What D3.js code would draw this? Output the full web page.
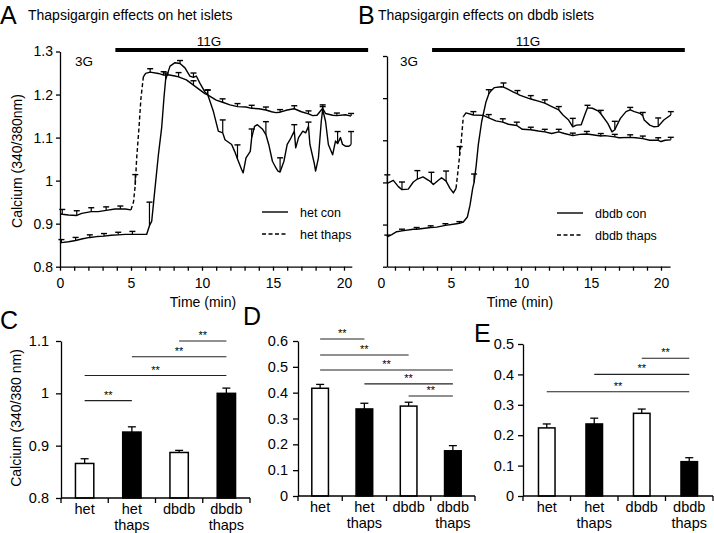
<!DOCTYPE html>
<html>
<head>
<meta charset="utf-8">
<script src="https://cdn.jsdelivr.net/npm/d3@7"></script>
<style>
  body { margin: 0; background: #fff; }
  svg { font-family: "Liberation Sans", Arial, sans-serif; }
</style>
</head>
<body>
<svg width="714" height="533"></svg>
<script>
// ---------- A: het islets, calcium traces ----------
const hetConT = [0,0.1,0.6,1.1,1.6,2.1,2.6,3.1,3.6,4.1,4.6,5.1,5.6,6.1,6.3,6.46,6.69,6.93,7.16,7.32,7.44,7.75,8.1,8.45,8.8,9.15,9.4,9.6,9.86,10.2,10.4,10.8,11.15,11.46,11.62,12.09,12.3,12.5,12.79,12.9,13.1,13.4,13.5,13.7,13.9,14.25,14.5,14.7,14.96,15.2,15.35,15.5,15.77,16.0,16.2,16.5,16.6,16.8,17.1,17.3,17.5,17.6,17.9,18.0,18.2,18.4,18.5,18.7,18.9,19.2,19.4,19.55,19.75,19.9,20.1,20.35,20.5];
const hetConV = [0.855,0.856,0.858,0.861,0.865,0.868,0.870,0.871,0.873,0.874,0.875,0.875,0.875,0.875,0.895,0.906,0.982,1.06,1.123,1.192,1.235,1.266,1.274,1.272,1.262,1.243,1.24,1.243,1.226,1.206,1.2,1.161,1.115,1.111,1.095,1.084,1.068,1.05,1.026,1.018,1.053,1.068,1.1,1.126,1.13,1.12,1.107,1.084,1.045,1.03,1.022,1.02,1.045,1.084,1.095,1.115,1.076,1.1,1.115,1.111,1.126,1.084,1.041,1.022,1.053,1.138,1.165,1.138,1.084,1.06,1.092,1.086,1.1,1.084,1.08,1.08,1.084];
const hetConErrT = [0.1,1.1,2.1,3.1,4.1,5.1,6.3,7.44,8.45,9.4,10.4,11.46,12.5,13.5,14.5,15.5,16.5,17.5,18.5,19.55,20.5];
const hetConErr = [0.007,0.007,0.006,0.006,0.006,0.007,0.055,0.015,0.007,0.01,0.01,0.03,0.033,0.02,0.03,0.033,0.015,0.01,0.007,0.028,0.03];

const hetThapsT = [0,0.16,0.59,1.18,1.53,2.2,2.7,3.25,3.87,4.25,4.6,5.0,5.18,5.3,5.4,5.56,5.7,5.87,6.03,6.35,6.93,7.3,7.6,8.1,8.35,8.9,9.4,9.8,10.2,10.4,11.0,11.45,11.97,12.5,13.1,13.5,14.0,14.5,14.9,15.2,15.5,16.0,16.5,17.0,17.5,17.8,18.1,18.5,18.7,19.2,19.5,20.1,20.5];
const hetThapsV = [0.923,0.922,0.92,0.919,0.924,0.928,0.928,0.931,0.934,0.934,0.934,0.932,0.951,0.99,1.052,1.122,1.191,1.241,1.249,1.252,1.249,1.245,1.246,1.243,1.241,1.234,1.222,1.212,1.202,1.199,1.187,1.182,1.176,1.172,1.171,1.168,1.167,1.164,1.16,1.158,1.159,1.164,1.167,1.16,1.155,1.151,1.152,1.168,1.156,1.152,1.151,1.153,1.15];
const hetThapsErrT = [0.16,1.18,2.2,3.25,4.25,5.3,6.35,7.3,8.35,9.4,10.4,11.45,12.5,13.5,14.5,15.5,16.5,17.5,18.5,19.5,20.5];
const hetThapsErr = [0.011,0.011,0.009,0.008,0.007,0.024,0.008,0.008,0.01,0.01,0.012,0.008,0.007,0.007,0.007,0.006,0.007,0.007,0.008,0.006,0.006];

// ---------- B: dbdb islets, calcium traces ----------
const dbConT = [0.45,0.77,1.12,1.5,2.3,2.55,3.26,3.55,3.98,4.6,5.4,5.6,5.88,6.17,6.36,6.55,6.65,6.8,6.95,7.19,7.5,7.7,7.8,8.1,8.6,8.75,8.95,9.43,9.75,9.9,10.5,10.7,11.24,11.7,12.2,12.7,13.0,13.4,13.7,13.95,14.3,14.55,14.75,15.1,15.5,15.7,16.2,16.5,16.7,16.8,17.1,17.5,17.8,18.1,18.5,18.7,18.8,19.2,19.5,19.8,20.2,20.7];
const dbConV = [0.871,0.876,0.883,0.885,0.889,0.889,0.892,0.893,0.894,0.898,0.902,0.903,0.906,0.918,0.946,0.986,1.0,1.04,1.089,1.144,1.191,1.21,1.215,1.225,1.227,1.226,1.223,1.215,1.21,1.207,1.2,1.198,1.193,1.188,1.18,1.172,1.16,1.148,1.132,1.136,1.137,1.16,1.177,1.176,1.17,1.163,1.14,1.12,1.125,1.132,1.152,1.168,1.172,1.168,1.164,1.158,1.148,1.136,1.132,1.133,1.148,1.16];
const dbConErrT = [0.45,1.5,2.55,3.55,4.6,5.6,6.65,7.7,8.75,9.75,10.7,11.7,12.7,13.7,14.75,15.7,16.7,17.8,18.7,19.8,20.7];
const dbConErr = [0.004,0.004,0.004,0.004,0.004,0.004,0.02,0.01,0.01,0.008,0.008,0.008,0.008,0.02,0.006,0.008,0.02,0.006,0.008,0.02,0.008];

const dbThapsT = [0.45,0.88,1.24,1.5,1.95,2.31,2.6,3.0,3.4,3.6,3.74,4.1,4.33,4.65,4.93,5.17,5.36,5.52,5.62,5.71,5.88,6.07,6.6,7.3,7.7,8.2,8.7,9.1,9.7,10.1,10.7,11.24,11.7,12.19,12.7,13.1,13.7,14.2,14.7,15.1,15.7,16.0,16.7,17.0,17.8,18.2,18.7,19.2,19.8,20.0,20.3,20.7];
const dbThapsV = [0.998,1.005,0.99,0.983,0.984,1.001,1.008,1.013,1.005,1.0,0.995,1.005,1.011,1.003,0.986,0.975,0.986,1.033,1.065,1.089,1.156,1.165,1.16,1.159,1.153,1.146,1.143,1.138,1.135,1.126,1.125,1.122,1.12,1.116,1.12,1.116,1.111,1.114,1.115,1.113,1.11,1.111,1.108,1.106,1.107,1.106,1.104,1.1,1.1,1.097,1.1,1.101];
const dbThapsErrT = [0.45,1.5,2.6,3.6,4.65,5.62,6.6,7.7,8.7,9.7,10.7,11.7,12.7,13.7,14.7,15.7,16.7,17.8,18.7,19.8,20.7];
const dbThapsErr = [0.02,0.018,0.02,0.024,0.024,0.02,0.008,0.008,0.008,0.008,0.006,0.006,0.006,0.006,0.006,0.006,0.006,0.006,0.006,0.006,0.006];

const timeTicks = [0,1,2,3,4,5,6,7,8,9,10,11,12,13,14,15,16,17,18,19,20];
const calTicks = [0.8,0.9,1.0,1.1,1.2,1.3];
const glucoseA = [3.9, 21.7];
const glucoseB = [3.65, 21.7];

// ---------- C, D, E: bar charts ----------
const cats = ["het", "het thaps", "dbdb", "dbdb thaps"];
const cMeans = [0.866, 0.926, 0.887, 1.0];
const cErr = [0.009, 0.01, 0.004, 0.01];
const cTicks = [0.8, 0.9, 1.0, 1.1];
const cSig = [[0, 1], [0, 3], [1, 3], [2, 3]];
const cSigY = [0.986, 1.034, 1.07, 1.1];

const dMeans = [0.417, 0.337, 0.348, 0.175];
const dErr = [0.015, 0.022, 0.015, 0.02];
const dTicks = [0, 0.1, 0.2, 0.3, 0.4, 0.5, 0.6];
const dSig = [[0, 1], [0, 2], [0, 3], [1, 3], [2, 3]];
const dSigY = [0.608, 0.546, 0.488, 0.434, 0.387];

const eMeans = [0.224, 0.237, 0.272, 0.113];
const eErr = [0.013, 0.019, 0.014, 0.013];
const eTicks = [0, 0.1, 0.2, 0.3, 0.4, 0.5];
const eSig = [[0, 3], [1, 3], [2, 3]];
const eSigY = [0.343, 0.40, 0.453];

const svg = d3.select("svg");
const FONT = '"Liberation Sans", Arial, sans-serif';
const fmt1 = (d) => +d.toFixed(1);

const styleAxis = (g, size) =>
  g.attr("font-size", size).attr("font-family", FONT).attr("color", "#000")
   .call((s) => s.selectAll("path, line").attr("stroke-width", 1.3));

const label = (txt, x, y, size, anchor) =>
  svg.append("text").text(txt).attr("x", x).attr("y", y)
    .attr("font-size", size).attr("text-anchor", anchor || "start").attr("fill", "#000");

// trace: thaps series get dashes on their steep rise only
function drawTrace(g, x, y, T, V, dashSteep) {
  const line = d3.line().x((d) => x(d[0])).y((d) => y(d[1]));
  const pts = T.map((t, i) => [t, V[i]]);
  const runs = [];
  let cur = null;
  for (let i = 0; i < pts.length - 1; i++) {
    const dx = Math.abs(x(pts[i + 1][0]) - x(pts[i][0]));
    const dy = Math.abs(y(pts[i + 1][1]) - y(pts[i][1]));
    const steep = dashSteep && dy > 8 && dy > 3 * dx;
    if (!cur || cur.steep !== steep) {
      cur = { steep, pts: [pts[i]] };
      runs.push(cur);
    }
    cur.pts.push(pts[i + 1]);
  }
  runs.forEach((r) =>
    g.append("path").datum(r.pts).attr("d", line)
      .attr("fill", "none").attr("stroke", "#000").attr("stroke-width", 1.4)
      .attr("stroke-linejoin", "round")
      .attr("stroke-dasharray", r.steep ? "4,2.5" : null));
}

function drawErr(g, x, y, T, V, ET, E) {
  ET.forEach((t, k) => {
    const i = T.indexOf(t);
    if (i < 0) return;
    const v = V[i];
    const cx = x(t), y0 = y(v), y1 = y(v + E[k]);
    g.append("line").attr("x1", cx).attr("x2", cx).attr("y1", y0).attr("y2", y1)
      .attr("stroke", "#000").attr("stroke-width", 1.2);
    g.append("line").attr("x1", cx - 3).attr("x2", cx + 3).attr("y1", y1).attr("y2", y1)
      .attr("stroke", "#000").attr("stroke-width", 1.4);
  });
}

function timePanel(cfg) {
  const g = svg.append("g");
  const { x, y } = cfg;
  // glucose bar
  g.append("rect").attr("x", x(cfg.glucose[0])).attr("y", 48)
    .attr("width", x(cfg.glucose[1]) - x(cfg.glucose[0])).attr("height", 4).attr("fill", "#000");
  label("11G", x(10.5), 46, 13.5, "middle");
  label("3G", cfg.g3x, 66, 13.5);

  const xAxis = g.append("g").attr("transform", `translate(0,${y(0.8)})`)
    .call(d3.axisBottom(x).tickValues(timeTicks).tickSize(4).tickPadding(7).tickSizeOuter(0)
      .tickFormat((d) => (d % 5 === 0 ? d : "")));
  styleAxis(xAxis, 14);
  xAxis.selectAll(".tick line").filter((d) => x(d) < x.range()[0] - 1).remove();

  const yAxis = g.append("g").attr("transform", `translate(${x.range()[0]},0)`)
    .call(d3.axisLeft(y).tickValues(calTicks).tickSize(4).tickPadding(3).tickSizeOuter(0)
      .tickFormat(cfg.yLabels ? fmt1 : ""));
  styleAxis(yAxis, 14);

  cfg.series.forEach((s) => {
    drawTrace(g, x, y, s.T, s.V, s.dashed);
    drawErr(g, x, y, s.T, s.V, s.ET, s.E);
  });

  // legend
  cfg.series.forEach((s, i) => {
    const ly = cfg.legend[1] + i * 22;
    g.append("line").attr("x1", cfg.legend[0]).attr("x2", cfg.legend[0] + 26)
      .attr("y1", ly).attr("y2", ly).attr("stroke", "#000").attr("stroke-width", 1.4)
      .attr("stroke-dasharray", s.dashed ? "4,2.5" : null);
    label(s.name, cfg.legend[0] + 38, ly + 4.5, 12.5);
  });

  label("Time (min)", cfg.timeX, 307, 14, "middle");
}

// ---------- A ----------
const xA = d3.scaleLinear().domain([0, 20.55]).range([60, 351.8]);
const yA = d3.scaleLinear().domain([0.8, 1.3]).range([266.7, 51.5]);
timePanel({
  x: xA, y: yA, glucose: glucoseA, g3x: 75, yLabels: true, legend: [262, 212], timeX: 203,
  series: [
    { name: "het con", T: hetConT, V: hetConV, ET: hetConErrT, E: hetConErr, dashed: false },
    { name: "het thaps", T: hetThapsT, V: hetThapsV, ET: hetThapsErrT, E: hetThapsErr, dashed: true },
  ],
});

// ---------- B ----------
const xB = d3.scaleLinear().domain([0.43, 20.65]).range([387, 670.1]);
const yB = d3.scaleLinear().domain([0.8, 1.3]).range([266.7, 56]);
timePanel({
  x: xB, y: yB, glucose: glucoseB, g3x: 400, yLabels: false, legend: [557, 213], timeX: 520,
  series: [
    { name: "dbdb con", T: dbConT, V: dbConV, ET: dbConErrT, E: dbConErr, dashed: false },
    { name: "dbdb thaps", T: dbThapsT, V: dbThapsV, ET: dbThapsErrT, E: dbThapsErr, dashed: true },
  ],
});

// ---------- bar panels ----------
function barPanel(cfg) {
  const g = svg.append("g");
  const x = d3.scaleBand().domain(cats).range(cfg.xr).paddingInner(cfg.pad).paddingOuter(cfg.pad / 2);
  const y = d3.scaleLinear().domain(cfg.yd).range(cfg.yr);
  const base = y(cfg.yd[0]);
  const cx = (i) => x(cats[i]) + x.bandwidth() / 2;

  g.selectAll("rect").data(cfg.means).join("rect")
    .attr("x", (d, i) => x(cats[i]) + 0.75).attr("width", x.bandwidth() - 1.5)
    .attr("y", (d) => y(d)).attr("height", (d) => base - y(d))
    .attr("fill", (d, i) => (i % 2 ? "#000" : "#fff"))
    .attr("stroke", "#000").attr("stroke-width", 1.5);

  cfg.means.forEach((m, i) => {
    const y1 = y(m + cfg.err[i]);
    g.append("line").attr("x1", cx(i)).attr("x2", cx(i)).attr("y1", y(m)).attr("y2", y1)
      .attr("stroke", "#000").attr("stroke-width", 1.3);
    g.append("line").attr("x1", cx(i) - 4).attr("x2", cx(i) + 4).attr("y1", y1).attr("y2", y1)
      .attr("stroke", "#000").attr("stroke-width", 1.3);
  });

  const yAxis = g.append("g").attr("transform", `translate(${cfg.xr[0]},0)`)
    .call(d3.axisLeft(y).tickValues(cfg.ticks).tickSize(5).tickPadding(cfg.tickPad).tickSizeOuter(0).tickFormat(fmt1));
  styleAxis(yAxis, 14.5);

  g.append("line").attr("x1", cfg.xr[0]).attr("x2", cfg.xr[1]).attr("y1", base).attr("y2", base)
    .attr("stroke", "#000").attr("stroke-width", 1.3);
  d3.range(cats.length + 1).forEach((k) => {
    const bx = cfg.xr[0] + k * x.step();
    g.append("line").attr("x1", bx).attr("x2", bx).attr("y1", base).attr("y2", base + 5)
      .attr("stroke", "#000").attr("stroke-width", 1.3);
  });

  cats.forEach((c, i) => {
    c.split(" ").forEach((w, j) => label(w, cx(i), base + 15.5 + j * 16.5, 14.5, "middle"));
  });

  cfg.sig.forEach((p, k) => {
    const ly = y(cfg.sigY[k]);
    g.append("line").attr("x1", cx(p[0])).attr("x2", cx(p[1])).attr("y1", ly).attr("y2", ly)
      .attr("stroke", "#222").attr("stroke-width", 1.1);
    label("**", (cx(p[0]) + cx(p[1])) / 2, ly - 2, 11, "middle");
  });
}

barPanel({ xr: [61, 250], pad: 0.58, yd: [0.8, 1.1], yr: [498, 341], means: cMeans, err: cErr,
  ticks: cTicks, tickPad: 7, sig: cSig, sigY: cSigY });
barPanel({ xr: [298, 475], pad: 0.59, yd: [0, 0.6], yr: [496, 341], means: dMeans, err: dErr,
  ticks: dTicks, tickPad: 5, sig: dSig, sigY: dSigY });
barPanel({ xr: [523, 713], pad: 0.62, yd: [0, 0.5], yr: [496, 344], means: eMeans, err: eErr,
  ticks: eTicks, tickPad: 4, sig: eSig, sigY: eSigY });

// ---------- titles, axis titles, panel letters ----------
label("A", 0, 24, 25);
label("Thapsigargin effects on het islets", 28, 20, 14);
label("B", 358, 24, 25);
label("Thapsigargin effects on dbdb islets", 378, 20, 14);
label("C", 0, 329, 25);
label("D", 243, 325, 25);
label("E", 474, 342, 25);

svg.append("text").text("Calcium (340/380nm)")
  .attr("transform", "translate(22,161) rotate(-90)")
  .attr("font-size", 14).attr("text-anchor", "middle").attr("fill", "#000");
svg.append("text").text("Calcium (340/380 nm)")
  .attr("transform", "translate(21,418) rotate(-90)")
  .attr("font-size", 14).attr("text-anchor", "middle").attr("fill", "#000");
</script>
</body>
</html>
